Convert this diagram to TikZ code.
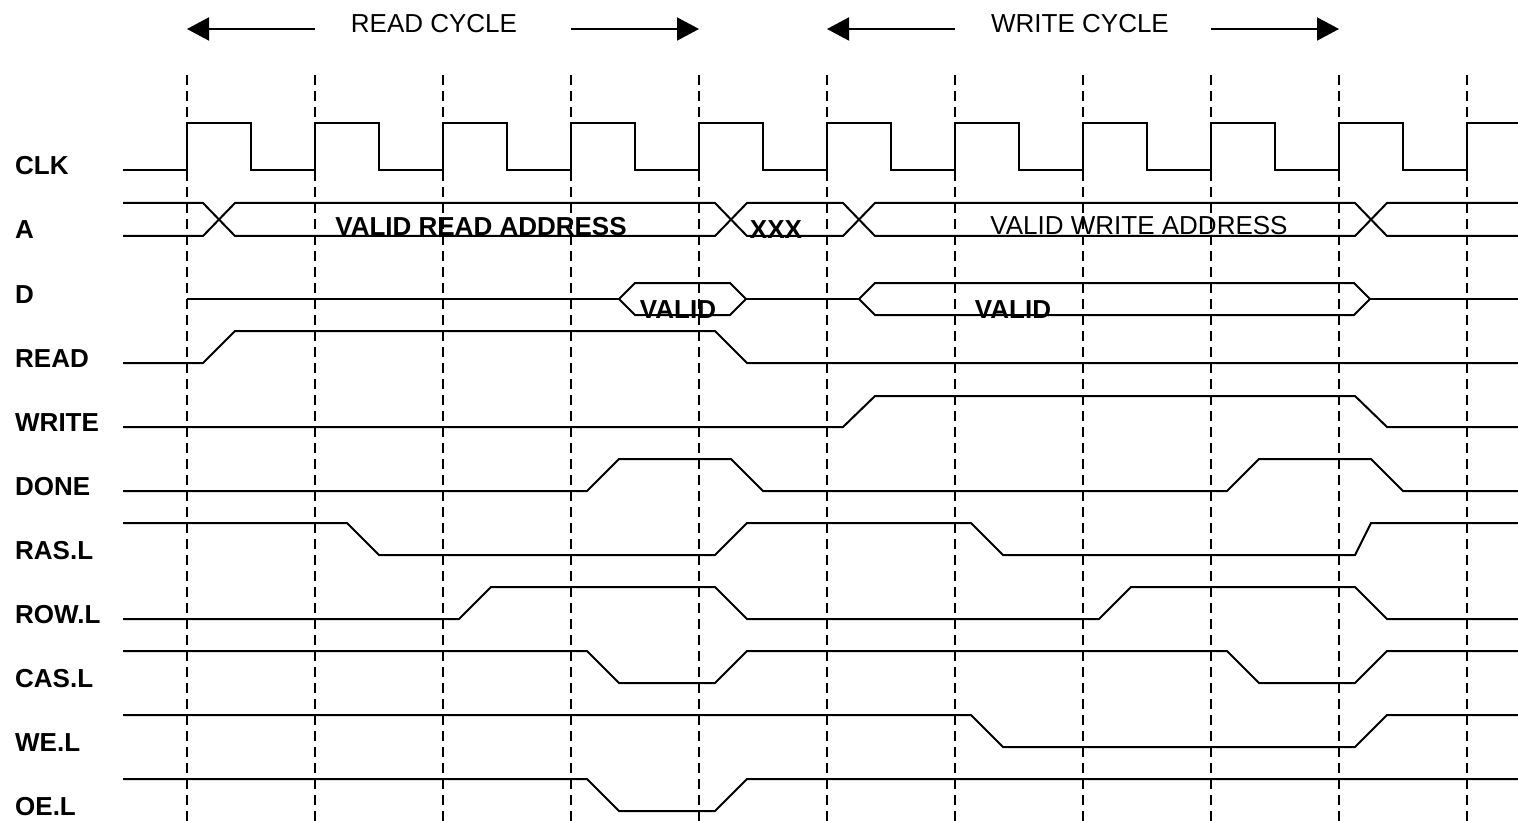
\documentclass[tikz,border=0pt]{standalone}
\usepackage{fontspec}
\setmainfont{Liberation Sans}
\usetikzlibrary{arrows.meta}
\begin{document}
\begin{tikzpicture}[x=1pt,y=-1pt,
  sig/.style={line width=2pt, line join=miter},
  grid/.style={line width=2pt, dash pattern=on 10pt off 6pt},
  lbl/.style={anchor=base west, inner sep=0pt, font=\fontsize{26}{30}\selectfont\bfseries},
  btxt/.style={anchor=base, inner sep=0pt, font=\fontsize{26}{30}\selectfont\bfseries},
  ntxt/.style={anchor=base, inner sep=0pt, font=\fontsize{26}{30}\selectfont},
  cyc/.style={line width=2pt, -{Triangle[length=22pt,width=23pt]}}]
\fill[white] (0,0) rectangle (1518,821);
\useasboundingbox (0,0) rectangle (1518,821);
% dashed grid
\foreach \k in {0,...,10} {
  \draw[grid] (187+128*\k,75) -- (187+128*\k,821);
}
% header
\node[ntxt] (rc) at (434,33) {READ CYCLE};
\node[ntxt] (wc) at (1080,33) {WRITE CYCLE};
\coordinate (rcL0) at (315,29); \coordinate (rcL1) at (187,29);
\coordinate (rcR0) at (571,29); \coordinate (rcR1) at (699,29);
\coordinate (wcL0) at (955,29); \coordinate (wcL1) at (827,29);
\coordinate (wcR0) at (1211,29); \coordinate (wcR1) at (1339,29);
\draw[cyc] (rcL0) -- (rcL1);
\draw[cyc] (rcR0) -- (rcR1);
\draw[cyc] (wcL0) -- (wcL1);
\draw[cyc] (wcR0) -- (wcR1);
% labels
\node[lbl] (lclk) at (15,175) {CLK};
\node[lbl] (la) at (15,239) {A};
\node[lbl] (ld) at (15,303) {D};
\node[lbl] (lread) at (15,367) {READ};
\node[lbl] (lwrite) at (15,431) {WRITE};
\node[lbl] (ldone) at (15,495) {DONE};
\node[lbl] (lras) at (15,559) {RAS.L};
\node[lbl] (lrow) at (15,623) {ROW.L};
\node[lbl] (lcas) at (15,687) {CAS.L};
\node[lbl] (lwe) at (15,751) {WE.L};
\node[lbl] (loe) at (15,815) {OE.L};
% CLK
\draw[sig] (123,170) -- (187,170)
  \foreach \k in {0,...,9} { -- (187+128*\k,123) -- (251+128*\k,123) -- (251+128*\k,170) -- (315+128*\k,170) }
  -- (1467,123) -- (1518,123);
% A bus
\draw[sig] (123,203) -- (203,203) -- (235,236) -- (715,236) -- (747,203) -- (843,203) -- (875,236) -- (1355,236) -- (1387,203) -- (1518,203);
\draw[sig] (123,236) -- (203,236) -- (235,203) -- (715,203) -- (747,236) -- (843,236) -- (875,203) -- (1355,203) -- (1387,236) -- (1518,236);
\node[btxt] (ra) at (481,236) {VALID READ ADDRESS};
\node[btxt] (xx) at (776,239) {XXX};
\node[ntxt] (wa) at (1139,235) {VALID WRITE ADDRESS};
% D bus
\draw[sig] (187,299) -- (619,299);
\draw[sig] (619,299) -- (635,283) -- (730,283) -- (746,299) -- (730,315) -- (635,315) -- cycle;
\draw[sig] (746,299) -- (859,299);
\draw[sig] (859,299) -- (875,283) -- (1354,283) -- (1370,299) -- (1354,315) -- (875,315) -- cycle;
\draw[sig] (1370,299) -- (1518,299);
\node[btxt] (dv1) at (678,318) {VALID};
\node[btxt] (dv2) at (1013,318) {VALID};
% READ
\draw[sig] (123,363) -- (203,363) -- (235,331) -- (715,331) -- (747,363) -- (1518,363);
% WRITE
\draw[sig] (123,427) -- (843,427) -- (875,396) -- (1355,396) -- (1387,427) -- (1518,427);
% DONE
\draw[sig] (123,491) -- (587,491) -- (619,459) -- (731,459) -- (763,491) -- (1227,491) -- (1259,459) -- (1371,459) -- (1403,491) -- (1518,491);
% RAS.L
\draw[sig] (123,523) -- (347,523) -- (379,555) -- (715,555) -- (747,523) -- (971,523) -- (1003,555) -- (1355,555) -- (1371,523) -- (1518,523);
% ROW.L
\draw[sig] (123,619) -- (459,619) -- (491,587) -- (715,587) -- (747,619) -- (1099,619) -- (1131,587) -- (1355,587) -- (1387,619) -- (1518,619);
% CAS.L
\draw[sig] (123,651) -- (587,651) -- (619,683) -- (715,683) -- (747,651) -- (1227,651) -- (1259,683) -- (1355,683) -- (1387,651) -- (1518,651);
% WE.L
\draw[sig] (123,715) -- (971,715) -- (1003,747) -- (1355,747) -- (1387,715) -- (1518,715);
% OE.L
\draw[sig] (123,779) -- (587,779) -- (619,811) -- (715,811) -- (747,779) -- (1518,779);
\end{tikzpicture}
\end{document}
